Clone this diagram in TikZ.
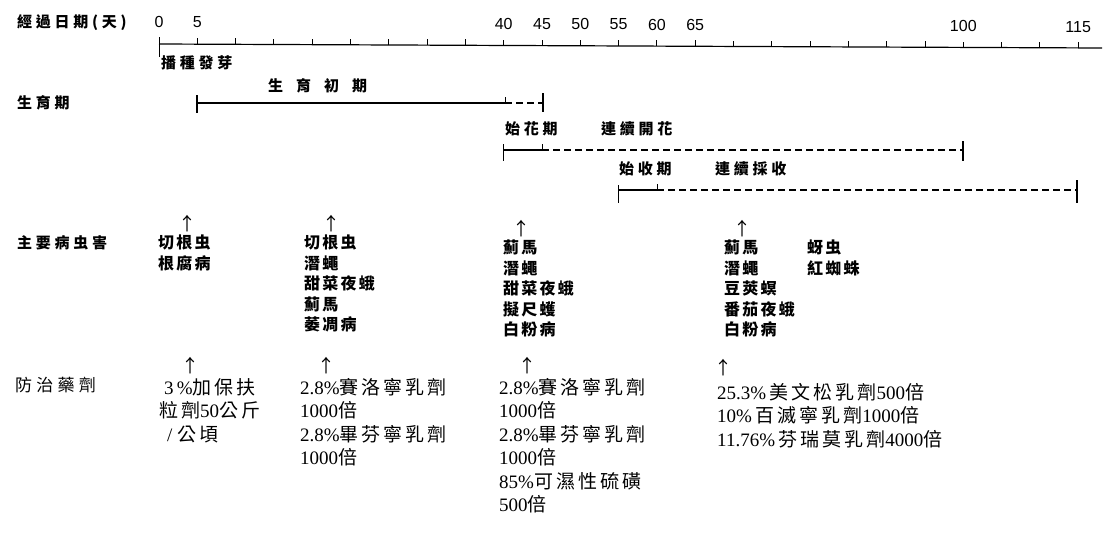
\documentclass[tikz,border=0pt]{standalone}
\usepackage{fontspec}
\setmainfont{Liberation Serif}
\setsansfont{Liberation Sans}
\newfontfamily\cjk{Noto Sans CJK TC}
\newfontfamily\cjksp{Noto Sans CJK TC}[LetterSpace=25]
\newfontfamily\cjkp{Noto Sans CJK TC}[LetterSpace=14]
\newfontfamily\cjkd{Noto Sans CJK TC}[LetterSpace=16]
\newcommand\zh[1]{{\cjkd #1}}
\tikzset{
  head/.style={anchor=west, inner sep=0pt, font=\cjksp\bfseries\fontsize{15}{15}\selectfont},
  num/.style={inner sep=0pt, font=\sffamily\fontsize{16}{16}\selectfont},
  pest/.style={anchor=north west, inner sep=0pt, align=left, font=\cjkp\bfseries\fontsize{16}{20.5}\selectfont},
  drug/.style={anchor=north west, inner sep=0pt, align=left, font=\fontsize{19}{23.5}\selectfont},
  up/.style={inner sep=0pt, font=\cjk\fontsize{18}{18}\selectfont},
  bar/.style={line width=1.2pt},
  dsh/.style={line width=1.2pt, dash pattern=on 7pt off 4pt},
  tick/.style={line width=1pt}
}
\begin{document}
\begin{tikzpicture}[x=1pt,y=-1pt]
\useasboundingbox[fill=white] (0,0) rectangle (1106,533);

% ---- time axis
\node[head] (tA) at (17,23) {經過日期(天)};
\coordinate (ax0) at (159,44);
\coordinate (axE) at (1102,48);
\draw[bar] (ax0) -- (axE);
\coordinate (t0a) at (159,37);
\coordinate (t0b) at (159,57);
\draw[tick] (t0a) -- (t0b);
\foreach \i in {1,...,24}{
  \pgfmathsetmacro\xx{159+38.3*\i}
  \pgfmathsetmacro\yy{44+4*\i/24}
  \coordinate (tk\i) at (\xx,\yy);
  \coordinate (tu\i) at (\xx,\yy-6);
  \draw[tick] (tk\i) -- (tu\i);
}
\foreach \i/\v in {0/0,1/5,9/40,10/45,11/50,12/55,13/60,14/65,21/100,24/115}{
  \pgfmathsetmacro\xx{159+38.3*\i}
  \pgfmathsetmacro\yy{22+5*\i/24}
  \node[num] (lab\i) at (\xx,\yy) {\v};
}
\node[head] (sow) at (161,63) {播種發芽};

% ---- growth period
\node[head, font=\cjk\bfseries\fontsize{15}{15}\selectfont] (early) at (268,86) {生\kern13pt 育\kern13pt 初\kern13pt 期};
\node[head] (gq) at (17,103) {生育期};
\coordinate (g0) at (197,103);
\coordinate (g0a) at (197,95);
\coordinate (g0b) at (197,113);
\coordinate (g1) at (505,103);
\coordinate (g1a) at (505,97);
\coordinate (g2) at (543,103);
\coordinate (g2a) at (543,93);
\coordinate (g2b) at (543,112);
\draw[bar] (g0a) -- (g0b);
\draw[bar] (g0) -- (g1);
\draw[tick] (g1) -- (g1a);
\draw[dsh] (g1) -- (g2);
\draw[bar] (g2a) -- (g2b);

% ---- flowering
\node[head] (fl1) at (505,129) {始花期};
\node[head] (fl2) at (601,129) {連續開花};
\coordinate (f0) at (503,150);
\coordinate (f0a) at (503,144);
\coordinate (f0b) at (503,161);
\coordinate (f1) at (542,150);
\coordinate (f1a) at (542,144);
\coordinate (f2) at (963,150);
\coordinate (f2a) at (963,141);
\coordinate (f2b) at (963,161);
\draw[tick] (f0a) -- (f0b);
\draw[bar] (f0) -- (f1);
\draw[tick] (f1) -- (f1a);
\draw[dsh] (f1) -- (f2);
\draw[bar] (f2a) -- (f2b);

% ---- harvest
\node[head] (hv1) at (619,169) {始收期};
\node[head] (hv2) at (715,169) {連續採收};
\coordinate (h0) at (618,190);
\coordinate (h0a) at (618,185);
\coordinate (h0b) at (618,203);
\coordinate (h1) at (657,190);
\coordinate (h1a) at (657,184);
\coordinate (h2) at (1077,190);
\coordinate (h2a) at (1077,180);
\coordinate (h2b) at (1077,203);
\draw[tick] (h0a) -- (h0b);
\draw[bar] (h0) -- (h1);
\draw[tick] (h1) -- (h1a);
\draw[dsh] (h1) -- (h2);
\draw[bar] (h2a) -- (h2b);

% ---- pests
\node[head] (pq) at (17,243) {主要病虫害};
\node[up] (pa1) at (187,224) {↑};
\node[up] (pa2) at (331,224) {↑};
\node[up] (pa3) at (521,229) {↑};
\node[up] (pa4) at (742,229) {↑};
\node[pest] (p1) at (158,235) {切根虫\\根腐病};
\node[pest] (p2) at (304,235) {切根虫\\潛蠅\\甜菜夜蛾\\薊馬\\萎凋病};
\node[pest] (p3) at (503,240) {薊馬\\潛蠅\\甜菜夜蛾\\擬尺蠖\\白粉病};
\node[pest] (p4) at (724,240) {薊馬\\潛蠅\\豆莢螟\\番茄夜蛾\\白粉病};
\node[pest] (p5) at (807,240) {蚜虫\\紅蜘蛛};

% ---- control agents
\node[head, font=\cjksp\fontsize{17}{17}\selectfont] (dq) at (15,385) {防治藥劑};
\node[up] (da1) at (190,366) {↑};
\node[up] (da2) at (326,366) {↑};
\node[up] (da3) at (527,366) {↑};
\node[up] (da4) at (723,368) {↑};
\node[drug] (d1) at (159,378) {\hspace*{5pt}3\,\%\zh{加保扶}\\\zh{粒劑}50\zh{公斤}\\\hspace*{8pt}/ \zh{公頃}};
\node[drug] (d2) at (300,378) {2.8\%\zh{賽洛寧乳劑}\\1000\zh{倍}\\2.8\%\zh{畢芬寧乳劑}\\1000\zh{倍}};
\node[drug] (d3) at (499,378) {2.8\%\zh{賽洛寧乳劑}\\1000\zh{倍}\\2.8\%\zh{畢芬寧乳劑}\\1000\zh{倍}\\85\%\zh{可濕性硫磺}\\500\zh{倍}};
\node[drug] (d4) at (717,383) {25.3\%\,\zh{美文松乳劑}500\zh{倍}\\10\%\,\zh{百滅寧乳劑}1000\zh{倍}\\11.76\%\,\zh{芬瑞莫乳劑}4000\zh{倍}};
\end{tikzpicture}
\end{document}
